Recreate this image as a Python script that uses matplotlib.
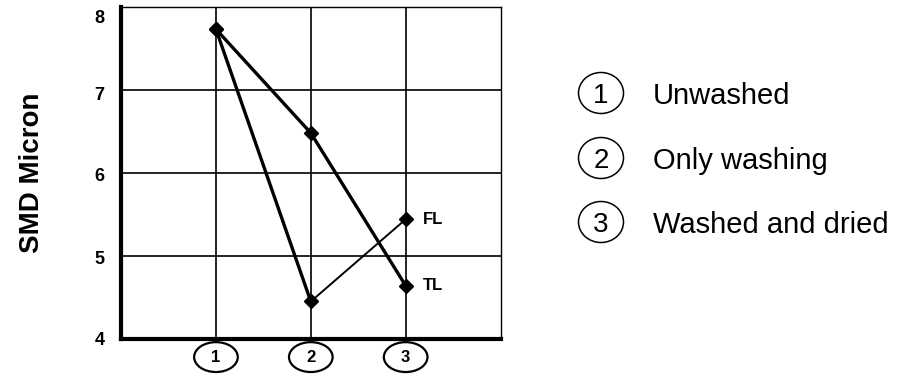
import matplotlib.pyplot as plt
from matplotlib.patches import Ellipse
import matplotlib.transforms as mtransforms

plt.rcParams['font.family'] = ['Liberation Sans', 'DejaVu Sans']

stages = [1, 2, 3]
stage_labels = ['1', '2', '3']
stage_names = ['Unwashed', 'Only washing', 'Washed and dried']
tl = [7.73, 6.48, 4.64]
fl = [7.73, 4.45, 5.44]

W, H = 897, 379
fig = plt.figure(figsize=(W / 100, H / 100), dpi=100)
ax = fig.add_axes([0.135, 0.106, 0.423, 0.876])

ax.plot(stages, tl, color='black', lw=2.4, marker='D', ms=7, zorder=3)
ax.plot(stages[:2], fl[:2], color='black', lw=2.4, zorder=3)
ax.plot(stages[1:], fl[1:], color='black', lw=1.4, zorder=3)
ax.plot(stages, fl, ls='none', color='black', marker='D', ms=7, zorder=3)

ax.text(stages[2] + 0.18, fl[2], 'FL', fontsize=12, fontweight='bold', va='center')
ax.text(stages[2] + 0.18, tl[2], 'TL', fontsize=12, fontweight='bold', va='center')

ax.set_xlim(0, 4)
ax.set_ylim(4, 8)
ax.set_xticks(stages)
ax.set_xticklabels([])
ax.set_yticks([4, 5, 6, 7, 8])
ax.set_yticklabels(['4', '5', '6', '7', '8'], fontsize=13, fontweight='bold')
ax.tick_params(axis='both', length=0, pad=12)
# the labels sit a touch below their grid lines, the top one well below
for t, dy in zip(ax.get_yticklabels(), [0, 2, 2, 4, 10]):
    t.set_transform(t.get_transform() +
                    mtransforms.ScaledTranslation(0, -dy / 100, fig.dpi_scale_trans))
ax.grid(True, color='black', lw=1.2)
ax.set_axisbelow(True)
for side in ['left', 'bottom']:
    ax.spines[side].set_linewidth(3)
for side in ['top', 'right']:
    ax.spines[side].set_linewidth(1)

# circled stage numbers under the x axis
trans = mtransforms.blended_transform_factory(ax.transData, ax.transAxes)
for x, lab in zip(stages, stage_labels):
    ax.add_patch(Ellipse((x, -0.055), 0.46, 0.09, transform=trans,
                         fill=False, ec='black', lw=1.6, clip_on=False))
    ax.text(x, -0.055, lab, transform=trans, ha='center', va='center',
            fontsize=12, fontweight='bold')

ax.set_ylabel('SMD Micron', fontsize=20, fontweight='bold')
ax.yaxis.set_label_coords(-0.20, 0.5)

# key on the right
key_y = [93, 158, 222]
for lab, name, y in zip(stage_labels, stage_names, key_y):
    fy = 1 - y / H
    fig.add_artist(Ellipse((601 / W, fy), 45 / W, 41 / H, transform=fig.transFigure,
                           fill=False, ec='black', lw=1.1))
    fig.text(601 / W, fy, lab, fontsize=20, ha='center', va='center_baseline')
    fig.text(653 / W, fy, name, fontsize=21, ha='left', va='center_baseline')

fig.savefig('out.png', dpi=100)
